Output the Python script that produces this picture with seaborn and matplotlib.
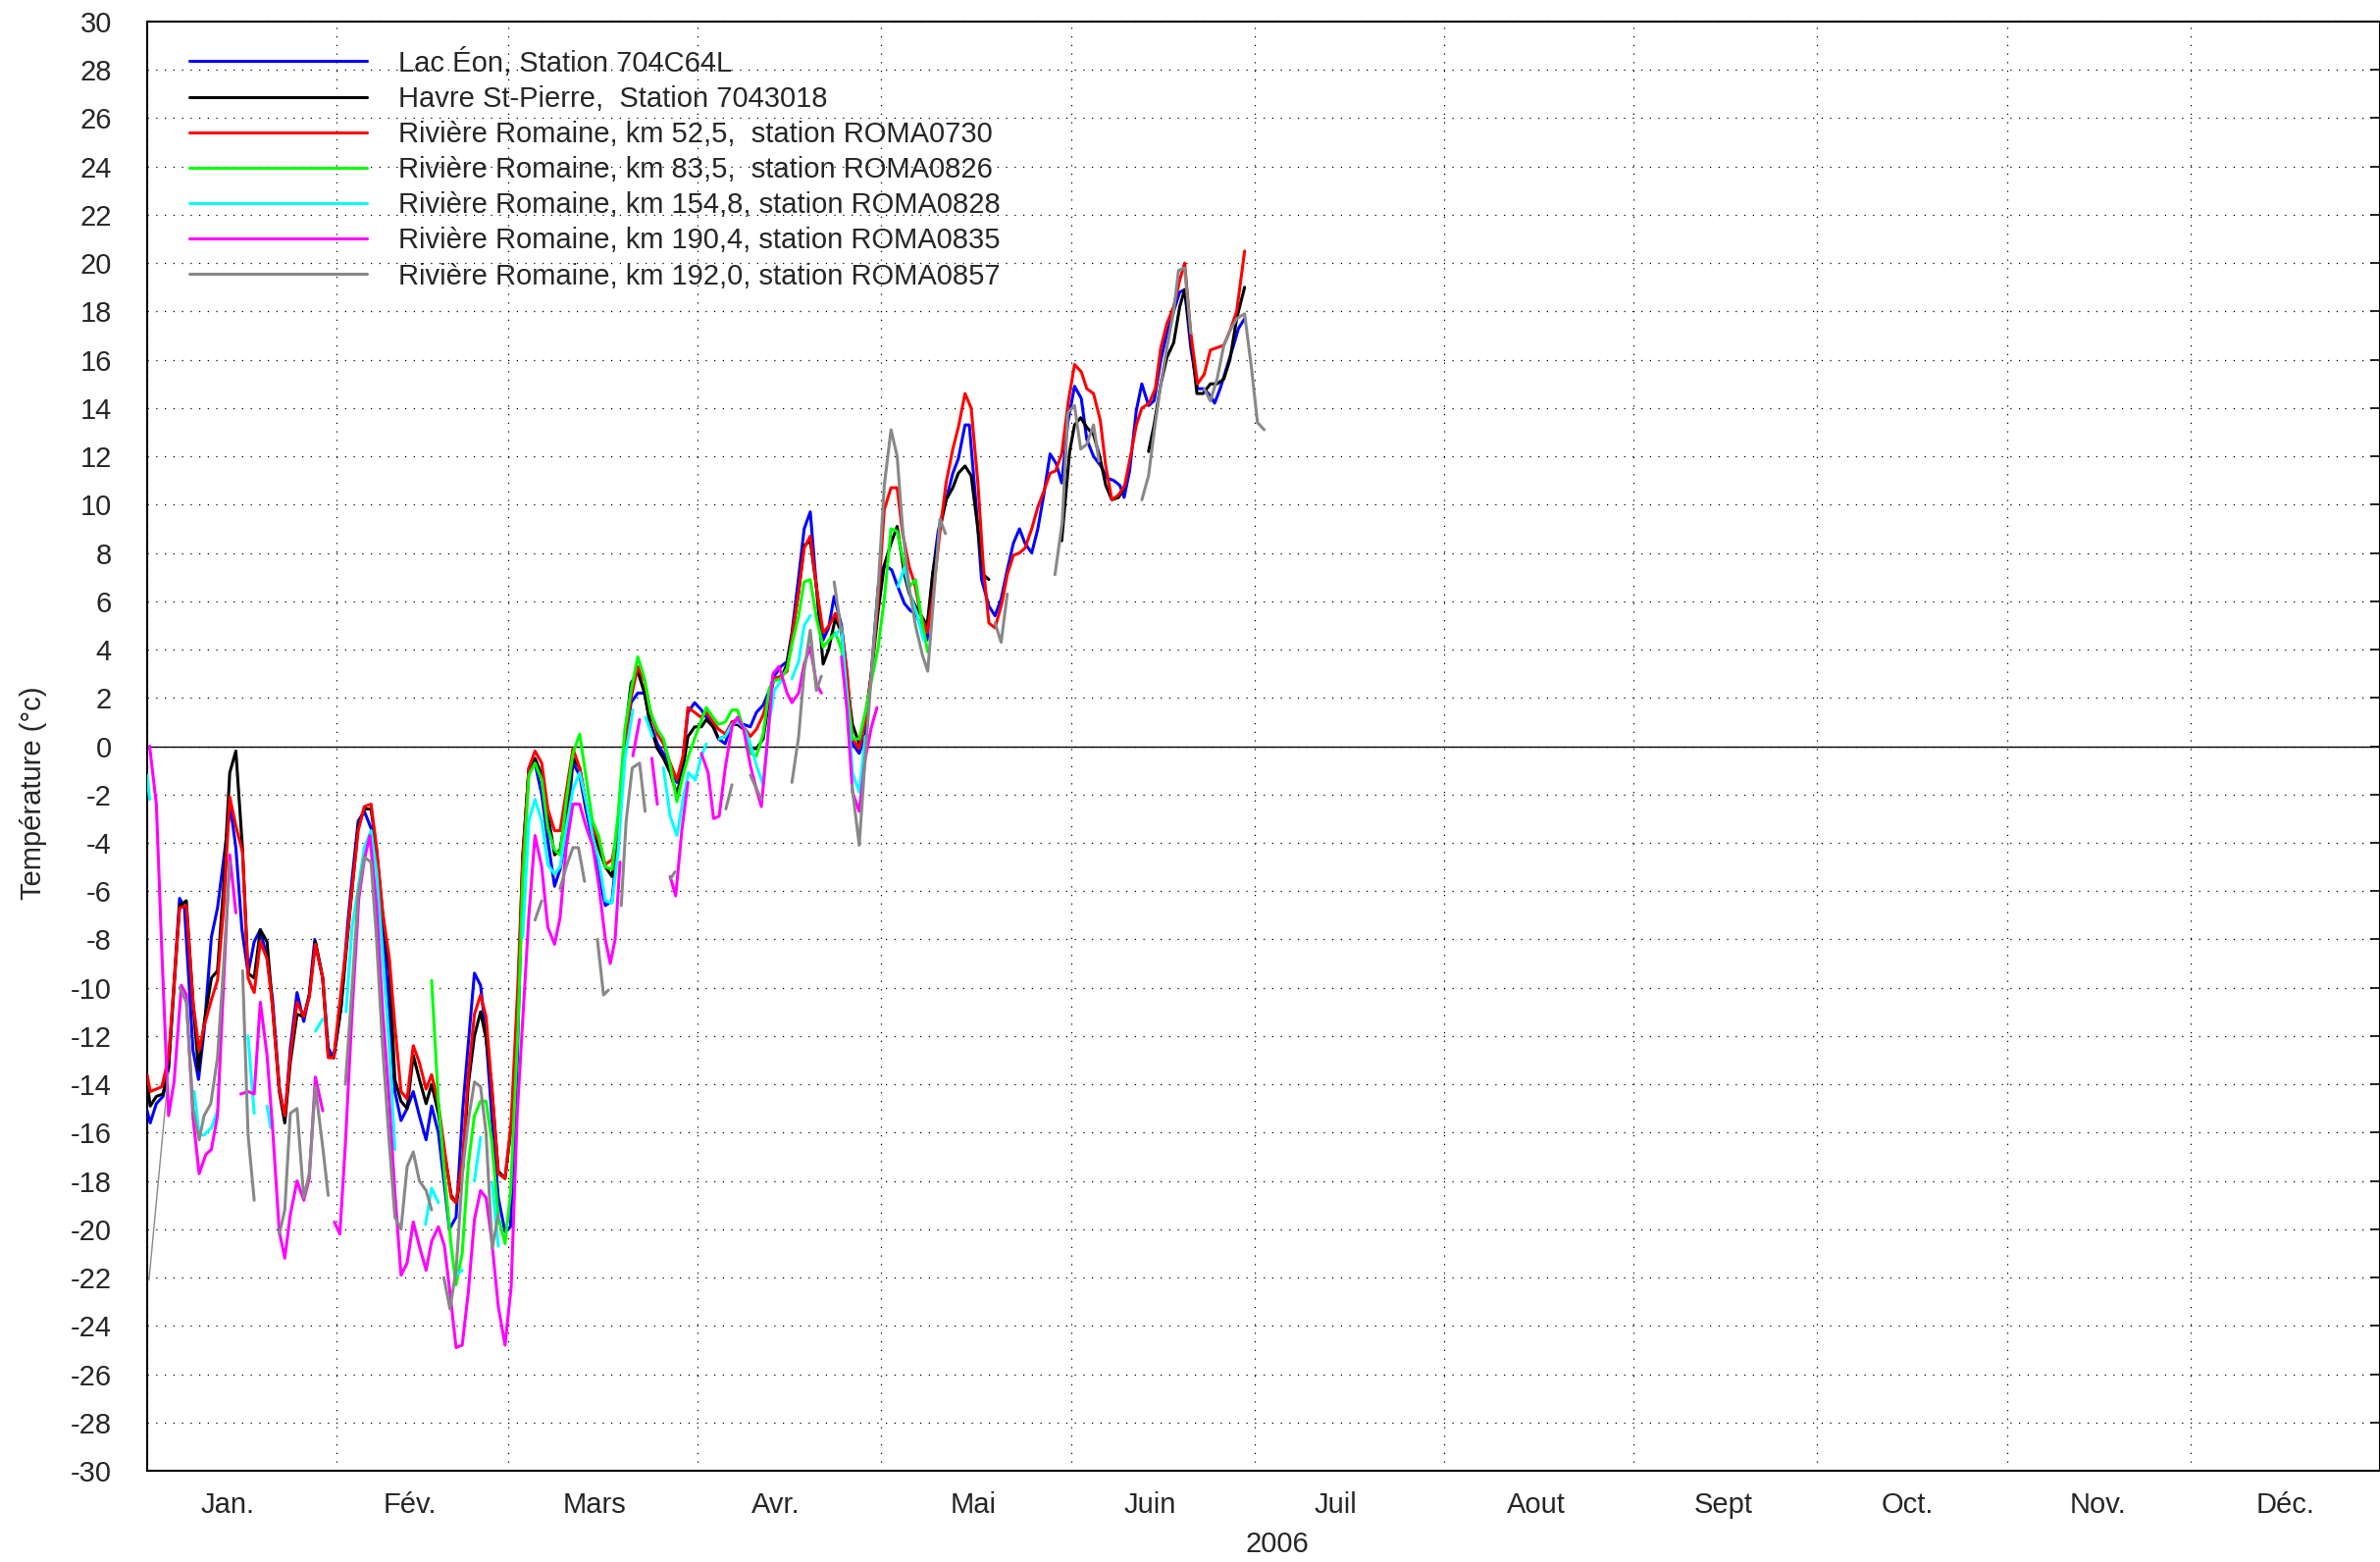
import pandas as pd
import matplotlib
matplotlib.use("Agg")
import matplotlib.pyplot as plt
import matplotlib.dates as mdates
import seaborn as sns

# Séries : (jour depuis le 1er janv., température), None = trou
lac_eon = [(0, -15.1), (0.5, -15.6), (1.5, -14.8), (2.6, -14.5), (3.5, -13.3), (5.3, -6.3), (6.1, -6.7),
           (7.5, -12.6), (8.4, -13.8), (9.3, -11.8), (10.5, -7.9), (11.5, -6.7), (12.5, -4.7), (13.6, -2.5),
           (14.5, -4.2), (15.5, -7.6), (16.5, -9.4), (17.5, -8.1), (18.5, -7.6), (19.6, -8.8), (20.5, -10.5),
           (21.6, -14.1), (22.5, -15.5), (23.4, -12.5), (24.5, -10.2), (25.6, -11.4), (26.5, -10.3), (27.4, -8.0),
           (28.7, -9.6), (29.6, -12.5), (30.5, -12.9), (31.7, -10.8), (32.8, -7.3), (33.5, -5.5), (34.5, -3.1),
           (35.5, -2.7), (36.6, -3.4), (37.5, -4.7), (38.5, -7.3), (39.6, -11.0), (40.5, -14.3), (41.5, -15.5),
           (42.5, -15.0), (43.5, -14.3), (44.5, -15.3), (45.6, -16.3), (46.5, -14.9), (47.6, -16.0), (48.6, -18.2),
           (49.4, -20.0), (50.5, -19.5), (51.6, -15.0), (52.5, -12.3), (53.5, -9.4), (54.5, -9.9), (55.4, -12.0),
           (56.3, -15.2), (57.4, -18.7), (58.5, -20.1), (59.4, -19.9), (60.5, -13.0), (61.4, -4.7), (62.4, -0.9),
           (63.4, -0.7), (64.5, -2.0), (65.5, -3.9), (66.6, -5.8), (67.5, -5.1), (68.5, -3.7), (69.6, -0.7),
           (70.7, -1.2), (71.7, -2.6), (72.8, -3.9), (73.8, -5.3), (74.9, -6.6), (76.0, -6.4), (77.0, -3.7),
           (78.1, 0.0), (79.1, 1.8), (80.2, 2.2), (81.3, 2.2), (82.3, 0.9), (83.4, 0.1), (84.4, -0.3), (85.5, -0.9),
           (86.6, -1.5), (87.6, -0.5), (88.4, 1.4), (89.5, 1.8), (90.6, 1.5), (91.4, 1.2), (92.5, 0.9), (93.4, 0.3),
           (94.5, 0.1), (95.6, 1.0), (96.5, 0.9), (97.5, 0.9), (98.6, 0.8), (99.6, 1.4), (100.7, 1.7), (101.7, 2.3),
           (102.5, 2.9), (103.6, 3.3), (104.6, 3.5), (105.4, 4.7), (106.5, 7.0), (107.4, 9.0), (108.4, 9.7),
           (109.4, 6.6), (110.5, 4.4), (111.4, 4.9), (112.3, 6.2), (113.5, 5.0), (114.4, 3.0), (115.3, 0.1),
           (116.4, -0.3), (117.4, 0.5), (118.4, 3.1), (119.5, 6.6), (120.5, 7.5), (121.7, 7.3), (122.7, 6.6),
           (123.8, 5.9), (124.8, 5.6), (125.6, 5.5), (127.5, 4.4), (128.4, 7.1), (129.3, 8.9), (130.6, 10.2),
           (131.7, 11.3), (132.6, 11.9), (133.7, 13.3), (134.4, 13.3), (135.5, 10.0), (136.4, 6.9), (137.6, 5.8),
           (138.6, 5.4), (139.6, 6.1), (140.6, 7.3), (141.6, 8.4), (142.6, 9.0), (143.5, 8.4), (144.6, 8.0),
           (145.6, 9.0), (146.5, 10.3), (147.6, 12.1), (148.6, 11.7), (149.5, 10.9), (150.5, 13.4), (151.6, 14.9),
           (152.7, 14.4), (153.6, 12.7), (154.7, 12.0), (155.9, 11.6), (156.9, 11.1), (158.0, 11.0), (159.0, 10.8),
           (159.7, 10.3), (160.6, 11.4), (161.7, 13.9), (162.6, 15.0), (163.7, 14.1), (164.6, 14.3), (165.7, 16.0),
           (166.7, 17.1), (167.8, 18.0), (168.8, 18.8), (169.6, 18.9), (170.6, 16.5), (171.7, 14.8), (172.8, 14.8),
           (173.8, 14.5), (174.5, 14.2), (175.4, 14.8), (176.5, 15.7), (177.6, 16.6), (178.4, 17.3), (179.4, 17.7)]

havre = [(0, -13.9), (0.5, -14.9), (1.5, -14.5), (2.6, -14.4), (3.5, -13.3), (5.3, -6.6), (6.4, -6.4),
         (7.5, -10.6), (8.4, -13.4), (9.3, -11.5), (10.5, -9.6), (11.5, -9.3), (12.5, -5.8), (13.5, -1.1),
         (14.5, -0.2), (15.6, -4.3), (16.5, -9.4), (17.5, -9.6), (18.5, -7.6), (19.6, -8.1), (20.5, -10.8),
         (21.6, -14.3), (22.5, -15.6), (23.4, -13.1), (24.5, -11.1), (25.6, -11.2), (26.5, -10.3), (27.5, -8.1),
         (28.7, -9.6), (29.6, -12.8), (30.5, -12.9), (31.7, -10.8), (32.6, -8.3), (33.5, -5.9), (34.5, -3.3),
         (35.5, -2.6), (36.6, -2.6), (37.5, -4.3), (38.5, -6.9), (39.6, -9.3), (40.5, -13.8), (41.5, -14.7),
         (42.5, -15.0), (43.5, -12.8), (44.5, -13.8), (45.6, -14.8), (46.5, -14.0), (47.6, -15.2), (48.6, -16.8),
         (49.7, -18.6), (50.5, -18.9), (51.6, -17.5), (52.5, -14.0), (53.5, -12.0), (54.5, -11.0), (55.4, -12.1),
         (56.3, -14.0), (57.4, -17.6), (58.5, -17.9), (59.5, -15.8), (60.5, -11.5), (61.4, -4.5), (62.4, -1.0),
         (63.4, -0.5), (64.5, -1.2), (65.5, -2.8), (66.6, -4.5), (67.5, -4.3), (68.5, -2.7), (69.6, -0.5),
         (70.7, -0.9), (71.7, -2.3), (72.8, -3.5), (73.8, -4.2), (74.9, -5.0), (76.0, -5.4), (77.0, -3.1),
         (78.1, 0.4), (79.1, 2.6), (80.2, 3.1), (81.3, 2.2), (82.3, 0.8), (83.4, -0.1), (84.4, -0.5), (85.5, -1.1),
         (86.6, -2.0), (87.6, -0.9), (88.4, 0.4), (89.5, 0.8), (90.6, 0.8), (91.4, 1.1), (92.5, 0.8), (93.4, 0.3),
         (94.5, 0.4), (95.6, 0.9), (96.5, 0.9), (97.5, 0.7), (98.6, -0.1), (99.6, -0.1), (100.7, 0.3), (101.7, 2.0),
         (102.5, 2.8), (103.6, 2.8), (104.6, 3.4), (105.4, 4.6), (106.5, 6.4), (107.4, 8.3), (108.4, 8.5),
         (109.4, 6.6), (110.5, 3.4), (111.4, 4.0), (112.5, 5.3), (113.5, 4.7), (114.4, 2.7), (115.3, 0.9),
         (116.4, 0.1), (117.4, 1.2), (118.4, 3.0), (119.5, 5.6), (120.5, 7.5), (121.6, 8.4), (122.6, 9.1),
         (123.8, 7.1), (124.6, 6.3), (125.6, 5.8), (127.5, 5.0), (128.4, 7.1), (129.6, 9.0), (130.6, 10.2),
         (131.7, 10.7), (132.6, 11.3), (133.7, 11.6), (134.7, 11.2), (135.8, 9.0), (136.7, 7.1), (137.6, 6.9), None,
         (149.5, 8.5), (150.8, 12.2), (151.6, 13.3), (152.6, 13.6), (153.6, 13.2), (154.7, 12.9), (155.7, 12.0),
         (156.7, 10.8), (157.7, 10.2), (158.8, 10.3), (159.7, 10.7), None,
         (163.7, 12.2), (164.6, 13.3), (165.7, 15.0), (166.7, 16.1), (167.8, 16.7), (168.8, 18.2), (169.6, 18.9),
         (170.6, 16.9), (171.6, 14.6), (172.6, 14.6), (173.8, 15.0), (174.9, 15.0), (176.0, 15.2), (177.0, 16.0),
         (178.1, 17.7), (179.4, 19.0)]

roma0730 = [(0, -13.6), (0.5, -14.3), (2.4, -14.1), (3.5, -12.9), (5.3, -6.7), (6.4, -6.6), (7.5, -10.6),
            (8.5, -12.6), (9.3, -11.6), (10.5, -10.5), (11.5, -9.7), (12.5, -6.7), (13.5, -2.1), (14.5, -3.3),
            (15.6, -4.4), (16.5, -9.6), (17.5, -10.2), (18.5, -8.1), (19.6, -8.8), (20.5, -10.8), (21.6, -14.2),
            (22.5, -15.3), (23.4, -12.8), (24.5, -10.6), (25.6, -11.2), (26.5, -10.4), (27.5, -8.2), (28.7, -9.6),
            (29.6, -12.9), (30.5, -12.9), (31.4, -10.8), (32.4, -8.6), (33.5, -5.9), (34.5, -3.5), (35.5, -2.5),
            (36.6, -2.4), (37.5, -4.2), (38.5, -6.9), (39.6, -8.8), (40.5, -11.6), (41.5, -14.3), (42.5, -14.6),
            (43.5, -12.4), (44.5, -13.1), (45.6, -14.2), (46.5, -13.6), (47.6, -14.8), (48.6, -16.7), (49.7, -18.7),
            (50.5, -18.9), (51.6, -17.0), (52.5, -13.6), (53.5, -11.1), (54.5, -10.3), (55.4, -11.2), (56.3, -14.0),
            (57.4, -17.7), (58.5, -17.9), (59.5, -15.6), (60.6, -9.9), (61.4, -4.7), (62.4, -0.9), (63.4, -0.2),
            (64.5, -0.7), (65.5, -2.6), (66.6, -3.5), (67.5, -3.5), (68.5, -1.9), (69.6, -0.1), (70.7, -0.9),
            (71.7, -2.3), (72.8, -3.4), (73.8, -3.9), (74.9, -4.9), (76.0, -4.7), (77.0, -3.4), (78.1, 0.1),
            (79.1, 2.0), (80.2, 3.3), (81.3, 2.7), (82.3, 1.4), (83.4, 0.5), (84.4, 0.1), (85.5, -0.7), (86.6, -1.4),
            (87.6, -0.4), (88.4, 1.6), (89.5, 1.4), (90.5, 1.2), (91.4, 1.4), (92.5, 1.0), (93.4, 0.7), (94.5, 0.5),
            (95.6, 1.0), (96.5, 1.1), (97.5, 0.8), (98.6, 0.4), (99.6, 0.7), (100.7, 1.3), (101.7, 2.2), (102.5, 2.8),
            (103.6, 2.9), (104.6, 3.1), (105.4, 4.5), (106.5, 6.4), (107.4, 8.2), (108.4, 8.7), (109.4, 6.6),
            (110.5, 4.7), (111.5, 5.0), (112.5, 5.5), (113.5, 4.9), (114.4, 3.1), (115.3, 0.3), (116.4, -0.1),
            (117.4, 1.1), (118.4, 3.0), (119.5, 6.1), (120.5, 9.8), (121.6, 10.7), (122.6, 10.7), (123.5, 8.8),
            (124.6, 7.4), (125.5, 6.7), (126.4, 5.5), (127.5, 4.7), (128.4, 6.1), (129.6, 8.9), (130.6, 10.9),
            (131.7, 12.3), (132.6, 13.2), (133.7, 14.6), (134.7, 14.0), (135.8, 10.9), (136.7, 7.4), (137.6, 5.1),
            (138.6, 4.9), (139.7, 5.9), (140.6, 7.1), (141.6, 7.9), (142.6, 8.0), (143.5, 8.2), (144.6, 9.0),
            (145.6, 9.9), (146.5, 10.5), (147.6, 11.3), (148.5, 11.4), (149.5, 12.1), (150.6, 14.3), (151.6, 15.8),
            (152.7, 15.5), (153.6, 14.8), (154.7, 14.6), (155.8, 13.5), (156.7, 11.6), (157.7, 10.2), (158.8, 10.4),
            (159.8, 10.8), (160.9, 12.2), (161.7, 13.3), (162.6, 14.0), (163.8, 14.2), (164.8, 14.8), (165.7, 16.5),
            (166.7, 17.5), (167.8, 18.2), (168.8, 19.3), (169.6, 20.0), (170.6, 17.1), (171.7, 15.0), (172.8, 15.4),
            (173.8, 16.4), (174.9, 16.5), (176.0, 16.6), (177.0, 17.2), (178.1, 18.0), (179.4, 20.5)]

roma0826 = [(46.5, -9.7), (47.6, -14.7), (48.6, -17.7), (49.7, -20.7), (50.5, -22.3), (51.5, -21.0), (52.5, -17.3),
            (53.5, -15.3), (54.5, -14.7), (55.4, -14.7), (56.3, -16.3), (57.4, -19.5), (58.5, -20.6), (59.4, -18.5),
            (60.6, -11.8), (61.4, -5.6), (62.4, -1.2), (63.4, -0.7), (64.5, -1.4), (65.5, -3.4), (66.6, -4.3),
            (67.5, -4.5), (68.5, -2.3), (69.6, -0.3), (70.7, 0.5), (71.7, -1.2), (72.8, -3.1), (73.8, -3.7),
            (74.9, -5.0), (76.0, -5.1), (77.0, -2.8), (78.1, 0.7), (79.1, 2.3), (80.2, 3.7), (81.3, 2.8), (82.3, 1.4),
            (83.4, 0.7), (84.4, 0.3), (85.5, -0.8), (86.6, -2.3), (87.6, -1.2), (88.5, -0.4), (89.6, 0.4), (90.5, 1.0),
            (91.4, 1.6), (92.5, 1.2), (93.4, 0.9), (94.5, 1.0), (95.6, 1.5), (96.5, 1.5), (97.5, 0.7), (98.6, -0.3),
            (99.6, -0.4), (100.7, 0.5), (101.7, 2.4), (102.5, 2.7), (103.6, 2.8), (104.6, 3.2), (105.4, 4.2),
            (106.5, 5.4), (107.4, 6.8), (108.4, 6.9), (109.4, 5.3), (110.5, 4.1), (111.5, 4.4), (112.5, 4.7),
            (113.5, 4.0), (114.4, 2.2), (115.3, 0.3), (116.4, 0.3), (117.4, 1.4), (118.4, 2.7), (119.5, 4.1),
            (120.5, 6.1), (121.6, 9.0), (122.6, 8.9), (123.5, 7.8), (124.6, 6.6), (125.6, 6.9), (126.7, 5.1),
            (127.6, 3.9)]

roma0828 = [(0, -1.2), (0.4, -2.2), None,
            (7.7, -14.3), (8.5, -16.1), (9.3, -16.1), (10.5, -15.8), (11.5, -15.1), None,
            (16.5, -12.0), (17.5, -15.2), None, (19.6, -14.9), (20.2, -15.8), None, (27.5, -11.8), (28.7, -11.3), None,
            (32.5, -11.0), (33.5, -7.5), (34.6, -5.7), (35.5, -4.2), (36.6, -3.5), (37.5, -5.2), (38.5, -8.6),
            (39.6, -12.5), (40.5, -16.7), None,
            (45.5, -19.8), (46.5, -18.3), (47.6, -18.9), None, (50.5, -21.9), (51.5, -21.7), None,
            (53.5, -18.0), (54.5, -16.2), None, (56.4, -18.1), (57.4, -20.7), None,
            (61.4, -7.9), (62.4, -3.1), (63.4, -2.2), (64.5, -3.1), (65.5, -4.9), (66.6, -5.3), (67.5, -5.0),
            (68.5, -3.4), (69.6, -1.8), (70.7, -1.1), (71.7, -2.2), (72.8, -3.7), (73.8, -4.7), (74.9, -6.4),
            (76.0, -6.5), (77.0, -4.3), (78.1, -0.5), (79.4, 1.5), None, (81.5, 1.2), (82.6, 0.4), None,
            (84.4, -0.9), (85.5, -2.9), (86.6, -3.7), (87.6, -2.2), (88.5, -1.1), (89.6, -1.4), (90.6, -0.4),
            (91.4, 0.1), None,
            (93.5, 0.3), (94.5, 0.4), (95.6, 0.9), (96.5, 1.0), (97.5, 0.8), (98.6, 0.1), (99.6, -0.8), (100.7, -1.6),
            (101.7, 1.0), (102.5, 2.3), (103.6, 2.7), None,
            (105.4, 2.8), (106.5, 3.5), (107.4, 5.0), (108.4, 5.4), None,
            (112.5, 4.6), (113.5, 4.9), (114.4, 2.0), (115.3, -1.1), (116.4, -1.9), (117.4, 0.4), None,
            (122.7, 6.6), (123.8, 7.4), (124.7, 6.3), (125.8, 5.5), (126.9, 4.4)]

roma0835 = [(0.4, 0.0), (1.5, -2.4), (2.4, -8.5), (3.5, -15.3), (4.4, -13.9), (5.6, -9.9), (6.4, -10.3),
            (7.5, -15.4), (8.5, -17.7), (9.6, -16.9), (10.5, -16.7), (11.5, -15.3), (12.5, -9.8), (13.5, -4.5),
            (14.5, -6.9), None,
            (15.3, -14.4), (16.5, -14.3), (17.5, -14.4), (18.5, -10.6), (19.6, -12.8), (20.5, -15.8), (21.6, -20.1),
            (22.5, -21.2), (23.4, -19.4), (24.5, -18.0), (25.6, -18.8), (26.5, -17.9), (27.5, -13.7), (28.7, -15.1),
            None,
            (30.6, -19.7), (31.5, -20.2), (32.4, -16.5), (33.5, -11.0), (34.6, -6.3), (35.5, -4.7), (36.4, -3.7),
            (37.5, -6.6), (38.5, -11.0), (39.6, -14.8), (40.5, -18.5), (41.5, -21.9), (42.5, -21.4), (43.5, -19.7),
            (44.5, -20.7), (45.6, -21.7), (46.5, -20.5), (47.6, -19.9), (48.6, -20.7), (49.4, -22.4), (50.5, -24.9),
            (51.5, -24.8), (52.5, -22.6), (53.5, -19.6), (54.5, -18.4), (55.4, -18.7), (56.3, -20.4), (57.4, -23.2),
            (58.5, -24.8), (59.5, -22.4), (60.5, -15.2), (62.4, -7.0), (63.4, -3.7), (64.5, -5.0), (65.5, -7.5),
            (66.6, -8.2), (67.5, -7.1), (68.5, -4.2), (69.6, -2.4), (70.7, -2.4), (71.7, -3.3), (72.8, -4.1),
            (73.8, -5.7), (74.9, -8.0), (75.7, -9.0), (76.5, -8.0), (77.3, -4.8), None,
            (79.4, -0.4), (80.5, 1.1), None, (82.5, -0.5), (83.4, -2.4), None,
            (85.5, -5.4), (86.4, -6.2), (87.4, -3.5), (88.4, -1.5), None,
            (90.6, -0.3), (91.7, -1.1), (92.6, -3.0), (93.5, -2.9), (94.5, -0.9), (95.6, 0.8), (96.5, 1.2),
            (97.5, 0.7), (98.6, -0.8), (99.6, -1.8), (100.4, -2.5), (101.5, 0.5), (102.3, 3.0), (103.3, 3.3),
            (104.6, 2.2), (105.4, 1.8), (106.5, 2.2), (107.4, 3.4), (108.4, 4.1), (109.4, 2.6), (110.2, 2.2), None,
            (113.5, 3.7), (114.4, 1.5), (115.3, -1.9), (116.4, -2.7), (117.4, -0.5), (118.4, 0.8), (119.3, 1.6)]

roma0857_debut = [(0.3, -22.1), (3.5, -13.5)]
roma0857 = [(5.3, -10.0), (6.4, -10.6), (7.5, -15.0), (8.5, -16.3), (9.3, -15.3), (10.4, -14.8), (11.5, -12.9),
            (12.5, -9.1), (13.5, -4.8), None,
            (15.6, -9.3), (16.5, -16.1), (17.5, -18.8), None,
            (21.6, -20.2), (22.5, -19.2), (23.4, -15.2), (24.5, -15.0), (25.6, -18.7), (26.5, -17.7), (27.5, -14.1),
            (28.7, -16.6), (29.6, -18.6), None,
            (32.4, -14.0), (33.5, -10.0), (34.5, -6.1), (35.5, -4.6), (36.6, -4.8), (37.5, -8.0), (38.5, -12.5),
            (39.6, -16.5), (40.5, -19.5), (41.5, -20.0), (42.5, -17.4), (43.5, -16.8), (44.5, -18.0), (45.6, -18.4),
            (46.5, -19.2), None,
            (48.5, -22.0), (49.5, -23.3), (50.5, -21.7), (51.6, -17.5), (52.5, -15.5), (53.5, -13.9), (54.5, -14.1),
            (55.4, -16.0), (56.4, -20.8), (57.4, -19.4), None,
            (63.4, -7.2), (64.5, -6.4), None, (67.5, -5.9), (68.5, -5.0), (69.6, -4.2), (70.5, -4.2), (71.5, -5.6), None,
            (73.6, -8.0), (74.6, -10.3), (75.4, -10.1), None,
            (77.5, -6.6), (78.3, -3.1), (79.3, -0.9), (80.5, -0.7), (81.4, -2.7), None, (85.5, -5.5), (86.3, -5.2), None,
            (94.6, -2.6), (95.6, -1.6), None, (98.6, -1.2), (100.4, -2.2), None,
            (105.4, -1.5), (106.5, 0.4), (107.4, 3.1), (108.4, 4.8), (109.4, 2.3), (110.2, 2.9), None,
            (112.3, 6.8), (113.5, 4.7), None,
            (115.2, -1.6), (116.4, -4.1), (117.4, -0.4), (118.4, 3.0), (119.5, 6.6), (120.5, 10.8), (121.6, 13.1),
            (122.6, 12.0), (123.5, 9.0), (124.6, 6.5), (125.6, 5.0), (126.7, 3.8), (127.6, 3.1), (129.6, 9.4),
            (130.5, 8.8), None,
            (138.6, 5.1), (139.6, 4.3), (140.6, 6.3), None,
            (148.4, 7.1), (149.6, 9.3), (150.5, 13.8), (151.6, 14.1), (152.6, 12.3), (153.6, 12.5), (154.7, 13.3),
            (155.6, 11.8), None,
            (162.6, 10.2), (163.7, 11.2), (164.6, 13.0), (165.7, 15.0), (166.7, 16.5), (167.8, 18.0), (168.6, 19.7),
            (169.6, 19.8), (170.6, 17.1), None,
            (172.8, 14.8), (173.8, 14.3), (174.9, 15.2), (176.0, 16.6), (177.0, 17.2), (178.1, 17.7), (179.4, 17.9),
            (180.5, 15.7), (181.5, 13.4), (182.6, 13.1)]

noms = ["Lac Éon, Station 704C64L",
        "Havre St-Pierre,  Station 7043018",
        "Rivière Romaine, km 52,5,  station ROMA0730",
        "Rivière Romaine, km 83,5,  station ROMA0826",
        "Rivière Romaine, km 154,8, station ROMA0828",
        "Rivière Romaine, km 190,4, station ROMA0835",
        "Rivière Romaine, km 192,0, station ROMA0857"]
couleurs = ["#0000ff", "#000000", "#ff0000", "#00ff00", "#00ffff", "#ff00ff", "#888888"]
mois = ["Jan.", "Fév.", "Mars", "Avr.", "Mai", "Juin", "Juil", "Aout", "Sept", "Oct.", "Nov.", "Déc."]
# position des noms de mois (jour de l'année), comme sur l'original
jours_mois = [13.2, 42.9, 73.2, 102.7, 135.0, 164.0, 194.3, 227.0, 257.6, 287.8, 318.9, 349.6]

debut = pd.Timestamp("2006-01-01")

# Construction du tableau long : un numéro de segment pour couper les trous
lignes = []
for nom, serie in zip(noms, [lac_eon, havre, roma0730, roma0826, roma0828, roma0835, roma0857]):
    seg = 0
    for p in serie:
        if p is None:
            seg += 1
            continue
        lignes.append({"station": nom, "seg": seg, "date": debut + pd.Timedelta(days=p[0]), "temp": p[1]})
df = pd.DataFrame(lignes)
df_debut = pd.DataFrame({"date": [debut + pd.Timedelta(days=p[0]) for p in roma0857_debut],
                         "temp": [p[1] for p in roma0857_debut]})

sns.set_theme(style="white")
plt.rcParams["font.family"] = ["Liberation Sans", "DejaVu Sans"]
plt.rcParams["axes.unicode_minus"] = False

fig = plt.figure(figsize=(24.26, 15.92), dpi=100)
ax = fig.add_axes([150 / 2426, 1 - 1499 / 1592, 2276 / 2426, 1477 / 1592])

# Grille pointillée et ligne du zéro
ax.grid(True, which="major", color="black", linestyle=(0, (1, 6)), linewidth=0.9)
ax.axhline(0, color="black", linewidth=1.0, zorder=1)

sns.lineplot(data=df, x="date", y="temp", hue="station", units="seg", estimator=None, sort=False,
             hue_order=noms, palette=dict(zip(noms, couleurs)), linewidth=2.2, ax=ax, zorder=3)
sns.lineplot(data=df_debut, x="date", y="temp", color=couleurs[6], linewidth=1.0, ax=ax, zorder=3)

ax.set_xlim(debut, pd.Timestamp("2007-01-01"))
ax.set_ylim(-30, 30)
ax.set_yticks(range(-30, 31, 2))

ax.xaxis.set_major_locator(mdates.MonthLocator())
ax.xaxis.set_major_formatter(plt.NullFormatter())
ax.set_xticks([debut + pd.Timedelta(days=j) for j in jours_mois], minor=True)
ax.set_xticklabels(mois, minor=True)

ax.tick_params(axis="x", which="major", direction="in", length=14, width=1.2, color="black")
ax.tick_params(axis="x", which="minor", length=0, labelsize=21, pad=15)
ax.tick_params(axis="y", which="major", direction="in", length=7, width=1.2, color="black",
               right=True, labelsize=21, pad=26)

for s in ax.spines.values():
    s.set_color("black")
    s.set_linewidth(1.5)

ax.set_xlabel("2006", fontsize=21)
ax.set_ylabel("Température (°c)", fontsize=21)
ax.xaxis.set_label_coords(0.506, -0.041)
ax.yaxis.set_label_coords(-0.045, 0.468)

# Légende sans cadre en haut à gauche
h, l = ax.get_legend_handles_labels()
for hh in h:
    hh.set_linewidth(2.2)
ax.legend(h[:7], l[:7], loc="upper left", bbox_to_anchor=(0.019, 0.982), frameon=False, fontsize=21,
          handlelength=6.2, handletextpad=1.1, labelspacing=0.28, borderpad=0, borderaxespad=0)

fig.savefig("out.png", dpi=100)
